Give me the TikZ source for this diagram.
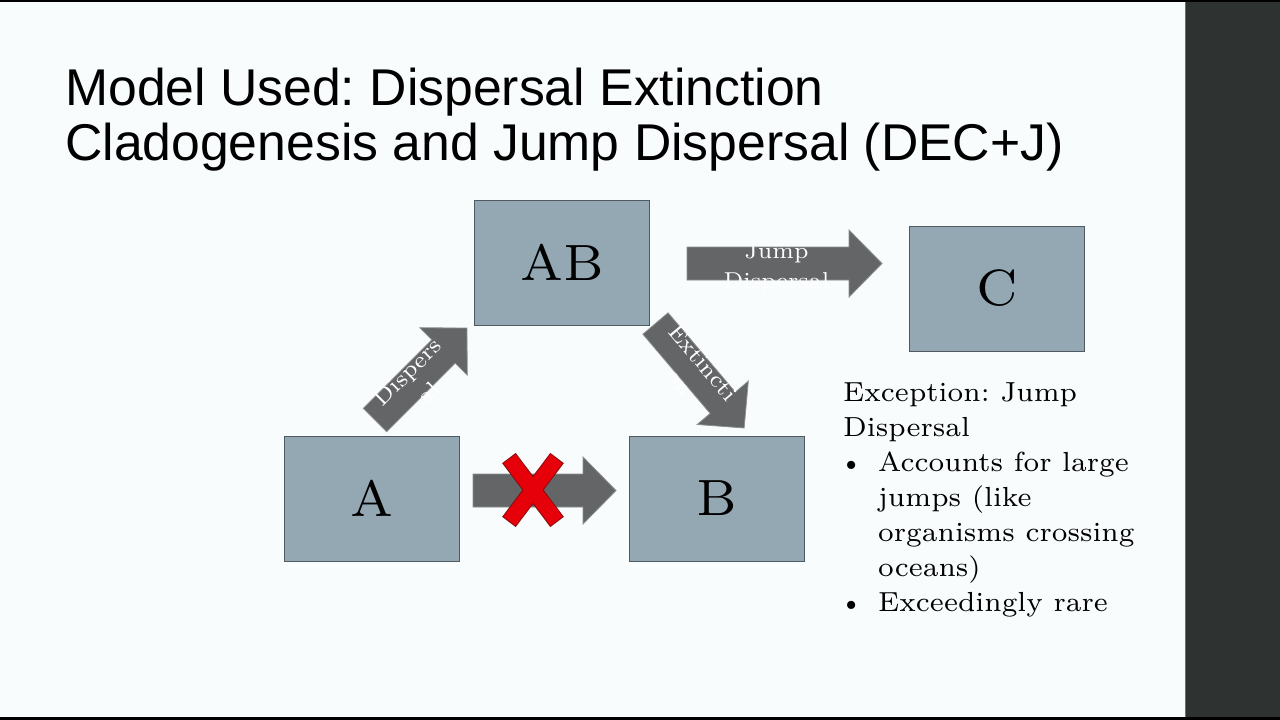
\documentclass[tikz,border=0pt]{standalone}
\usepackage{fontspec}
\setsansfont{Liberation Sans}
\newfontfamily\bodyfont{lmroman7-regular.otf}
\usetikzlibrary{calc}
\frenchspacing
\definecolor{bgcol}{HTML}{F8FCFC}
\definecolor{panelcol}{HTML}{2E3231}
\definecolor{panelline}{HTML}{6A6E6E}
\definecolor{boxfill}{HTML}{94A8B4}
\definecolor{boxline}{HTML}{4E5A60}
\definecolor{arrfill}{HTML}{636566}
\definecolor{arrline}{HTML}{8C8E8F}
\definecolor{xred}{HTML}{E6000A}
\definecolor{xdark}{HTML}{8A0A0A}
\tikzset{
  region/.style={draw=boxline, line width=1pt, fill=boxfill, minimum width=175pt, minimum height=125pt, inner sep=0pt, font=\bodyfont\fontsize{51}{60}\selectfont, text=black},
  arrtext/.style={text=white, align=center, font=\bodyfont\fontsize{23}{30}\selectfont, inner sep=0pt},
  blockarrowfill/.style={fill=arrfill, draw=arrline, line width=0.8pt},
  bodytext/.style={anchor=base west, inner sep=0pt, font=\bodyfont\fontsize{27.6}{35}\selectfont, text=black},
  titletext/.style={anchor=base west, inner sep=0pt, font=\sffamily\fontsize{51.7}{60}\selectfont, text=black},
  xbar/.style={rectangle, minimum width=78pt, minimum height=15pt, inner sep=0pt}
}
% #1 start coordinate, #2 angle, #3 length, #4 node name, #5 text
\newcommand\blockarr[5]{%
  \begin{scope}[shift={(#1)}, rotate=#2]
    \draw[blockarrowfill] (0,-16.5) -- ({#3-33},-16.5) -- ({#3-33},-33.5) -- (#3,0) -- ({#3-33},33.5) -- ({#3-33},16.5) -- (0,16.5) -- cycle;
    \node[arrtext, transform shape] (#4) at ({#3/2-8},4) {#5};
  \end{scope}}
\begin{document}
\begin{tikzpicture}[x=1pt,y=-1pt]
\useasboundingbox (0,0) rectangle (1280,720);
\fill[bgcol] (0,0) rectangle (1186,720);
\fill[panelcol] (1186,0) rectangle (1280,720);
\draw[panelline, line width=1.2pt] (1185.5,0) -- (1185.5,720);
\fill[black] (0,0) rectangle (1280,2);
\fill[black] (0,717) rectangle (1280,720);

% title
\node[titletext] (title1) at (65,105) {Model Used: Dispersal Extinction};
\node[titletext] (title2) at (65,160) {Cladogenesis and Jump Dispersal (DEC+J)};

% regions
\node[region] (AB) at (562,262.5) {AB};
\node[region] (C) at (997,288.5) {C};
\node[region] (A) at (371.5,498.5) {A};
\node[region] (B) at (716.5,498.5) {B};

% arrows
\coordinate (dispS) at (375,420);
\coordinate (extS) at (655.5,323.5);
\coordinate (jumpS) at (687,263.5);
\coordinate (abS) at (473,490.5);
\blockarr{dispS}{45}{130}{disptxt}{Dispers\\al}
\blockarr{extS}{-49.7}{137}{exttxt}{Extincti\\on}
\blockarr{jumpS}{0}{195}{jumptxt}{Jump\\Dispersal}
\blockarr{abS}{0}{143}{abtxt}{}

% red cross
\begin{scope}[shift={(533,490)}]
  \node[xbar, draw=xdark, line width=2pt, rotate=53] (xa) at (0,0) {};
  \node[xbar, draw=xdark, line width=2pt, rotate=-53] (xb) at (0,0) {};
  \node[xbar, fill=xred, rotate=53] (xc) at (0,0) {};
  \node[xbar, fill=xred, rotate=-53] (xd) at (0,0) {};
\end{scope}

% text
\node[bodytext] (exc1) at (843,401) {Exception: Jump};
\node[bodytext] (exc2) at (843,436) {Dispersal};
\node[bodytext] (bul1) at (839,471) {\textbullet};
\node[bodytext] (t1) at (878,471) {Accounts for large};
\node[bodytext] (t2) at (878,506) {jumps (like};
\node[bodytext] (t3) at (878,541) {organisms crossing};
\node[bodytext] (t4) at (878,576) {oceans)};
\node[bodytext] (bul2) at (839,611) {\textbullet};
\node[bodytext] (t5) at (878,611) {Exceedingly rare};
\end{tikzpicture}
\end{document}
